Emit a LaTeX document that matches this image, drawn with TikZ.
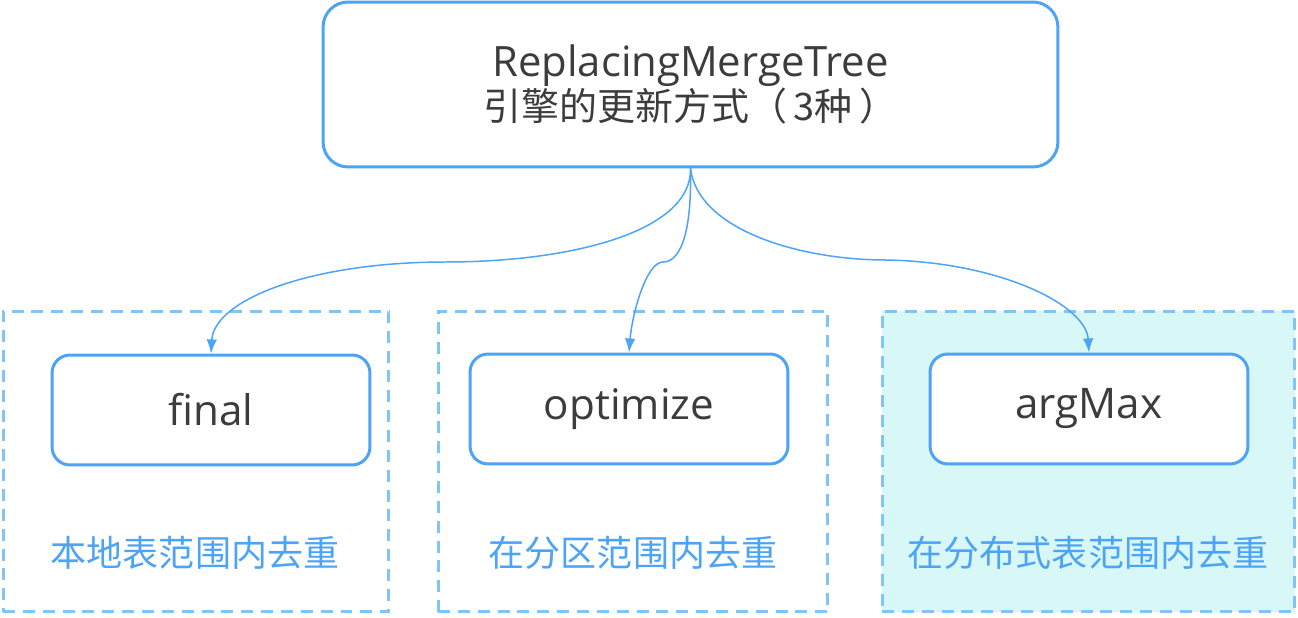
\documentclass[tikz,border=0pt]{standalone}
\usepackage{fontspec}
\setmainfont{Open Sans}
\newfontfamily\cjk{Noto Sans CJK SC}
\usetikzlibrary{arrows.meta}
\definecolor{edgeblue}{HTML}{4DA3F5}
\definecolor{dashblue}{HTML}{80C4F8}
\definecolor{areafill}{HTML}{D8F8F7}
\definecolor{textgray}{HTML}{3C3C3C}
\begin{document}
\begin{tikzpicture}[x=0.02cm,y=-0.02cm,
	mainbox/.style={draw=edgeblue,fill=white,line width=1.7pt,rounded corners=0.5cm,minimum width=14.7cm,minimum height=3.3cm,align=center,text=textgray,font=\fontsize{23.8}{25.5}\selectfont},
	waybox/.style={draw=edgeblue,fill=white,line width=1.7pt,rounded corners=0.36cm,minimum width=6.36cm,minimum height=2.2cm,text=textgray,font=\fontsize{24}{28}\selectfont},
	area/.style={draw=dashblue,line width=1.7pt,dash pattern=on 6.8pt off 4.5pt,minimum height=6.02cm},
	note/.style={text=edgeblue,font=\cjk\fontsize{20.5}{24}\selectfont},
	link/.style={draw=edgeblue,line width=0.85pt,-{Latex[length=8pt,width=6pt]}}]
		\useasboundingbox (0,0) rectangle (1298,618);
		\node [area,minimum width=7.72cm] at (196,461.5) (a1) {};
		\node [area,minimum width=7.8cm] at (633,461.5) (a2) {};
		\node [area,fill=areafill,minimum width=8.26cm] at (1088.5,461.5) (a3) {};
		\node [mainbox] at (690.5,84.5) (top) {ReplacingMergeTree\\{\cjk\fontsize{21.6}{25.5}\selectfont 引擎的更新方式（\,3种\,）}};
		\node [waybox] at (211,410) (final) {final};
		\node [waybox] at (629,409) (optimize) {optimize};
		\node [waybox] at (1089,409) (argmax) {argMax};
		\node [note] at (195,553) (n1) {本地表范围内去重};
		\node [note] at (633,553) (n2) {在分区范围内去重};
		\node [note] at (1088,553) (n3) {在分布式表范围内去重};
		% curved connectors from the top box
		\draw [link] (top.south) .. controls (692,232) and (570,262) .. (446,262) .. controls (310,262) and (214,300) .. (final.north);
		\draw [link] (top.south) .. controls (692,240) and (678,262) .. (663,262) .. controls (646,262) and (632,315) .. (optimize.north);
		\draw [link] (top.south) .. controls (698,230) and (800,260) .. (886,260) .. controls (1000,262) and (1086,305) .. (argmax.north);
	\end{tikzpicture}
\end{document}
